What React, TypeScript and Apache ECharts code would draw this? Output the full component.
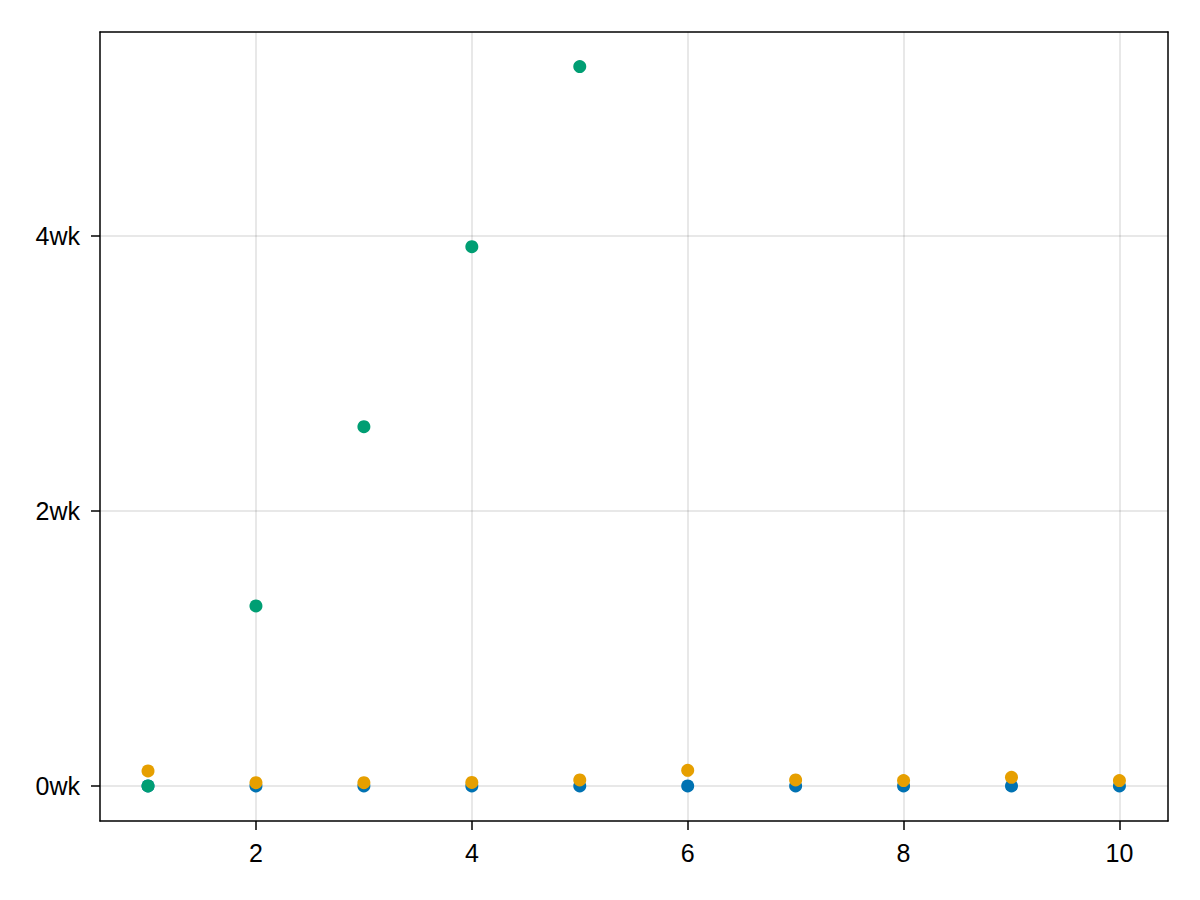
import React, { useEffect, useRef } from "react";
import * as echarts from "echarts";

const xValues = [1, 2, 3, 4, 5, 6, 7, 8, 9, 10];
const blueValues = [0, 0, 0, 0, 0, 0, 0, 0, 0, 0];
const orangeValues = [0.109, 0.024, 0.024, 0.026, 0.044, 0.114, 0.044, 0.039, 0.063, 0.039];
const greenValues = [0, 1.309, 2.611, 3.92, 5.229];
const xTicks = [2, 4, 6, 8, 10];
const yTicks = [0, 2, 4];

const pairs = (xs: number[], ys: number[]) => ys.map((y, i) => [xs[i], y]);

export default function App() {
  const ref = useRef<HTMLDivElement>(null);
  useEffect(() => {
    if (!ref.current) return;
    const chart = echarts.init(ref.current, undefined, { renderer: "svg" });
    const font = "'Liberation Sans', Arial, sans-serif";
    const labelStyle = {
      color: "#000",
      fontSize: 25,
      fontFamily: font,
    };
    const axisCommon = {
      axisLine: { show: true, onZero: false, lineStyle: { color: "#000", width: 1.5 } },
      axisTick: { show: true, length: 9, inside: false, lineStyle: { color: "#000", width: 1.5 } },
      splitLine: { show: true, lineStyle: { color: "rgba(0,0,0,0.12)", width: 1.5 } },
    };
    const frameAxis = {
      axisLine: { show: true, onZero: false, lineStyle: { color: "#000", width: 1.5 } },
      axisTick: { show: false },
      axisLabel: { show: false },
      splitLine: { show: false },
    };
    chart.setOption({
      animation: false,
      backgroundColor: "#fff",
      textStyle: { fontSize: 25, fontFamily: font, color: "#000" },
      grid: { left: 100, top: 32, right: 32, bottom: 79, containLabel: false, show: false },
      xAxis: [
        {
          type: "value",
          min: 0.555,
          max: 10.45,
          position: "bottom",
          ...axisCommon,
          axisTick: { ...axisCommon.axisTick, customValues: xTicks },
          axisLabel: {
            show: true,
            customValues: xTicks,
            ...labelStyle,
            margin: 19,
          },
        },
        {
          type: "value",
          min: 0.555,
          max: 10.45,
          position: "top",
          ...frameAxis,
        },
      ],
      yAxis: [
        {
          type: "value",
          min: -0.2545,
          max: 5.48,
          position: "left",
          ...axisCommon,
          axisTick: { ...axisCommon.axisTick, customValues: yTicks },
          axisLabel: {
            show: true,
            customValues: yTicks,
            formatter: (v: number) => `${v}wk`,
            ...labelStyle,
            margin: 20,
          },
        },
        {
          type: "value",
          min: -0.2545,
          max: 5.48,
          position: "right",
          ...frameAxis,
        },
      ],
      series: [
        {
          type: "scatter",
          data: pairs(xValues, blueValues),
          symbolSize: 13,
          itemStyle: { color: "#0072B2", opacity: 1 },
        },
        {
          type: "scatter",
          data: pairs(xValues, greenValues),
          symbolSize: 13,
          itemStyle: { color: "#009E73", opacity: 1 },
        },
        {
          type: "scatter",
          data: pairs(xValues, orangeValues),
          symbolSize: 13,
          itemStyle: { color: "#E69F00", opacity: 1 },
        },
      ],
    });
    return () => chart.dispose();
  }, []);
  return (
    <div
      ref={ref}
      style={{ position: "fixed", left: 0, top: 0, width: 1200, height: 900 }}
    />
  );
}
